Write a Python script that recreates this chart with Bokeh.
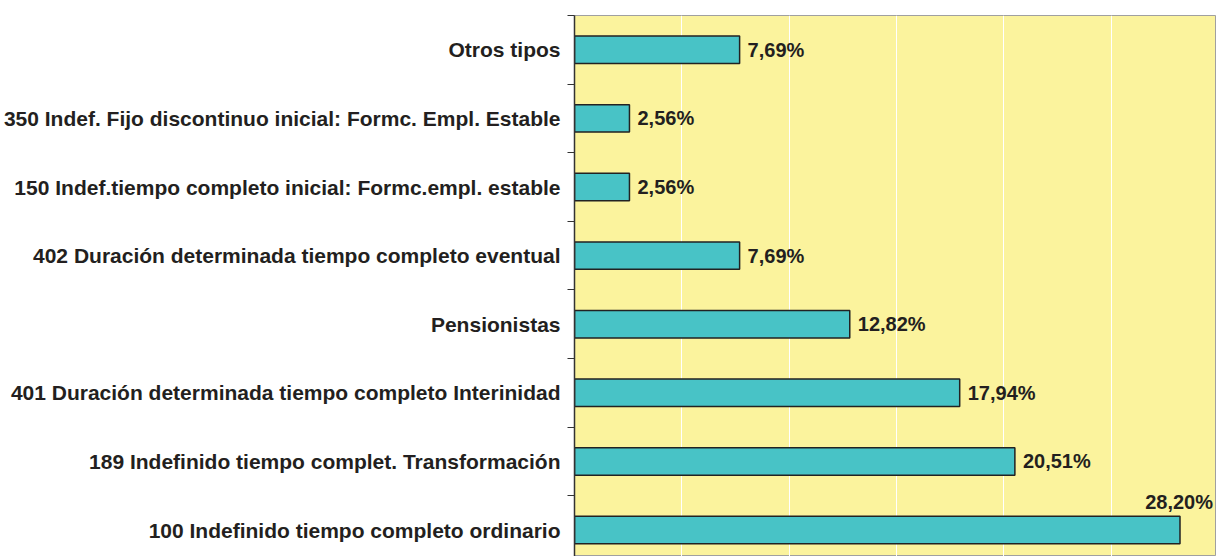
from bokeh.plotting import figure
from bokeh.models import Range1d, FixedTicker, ColumnDataSource
from bokeh.core.properties import value
from bokeh.embed import file_html
from bokeh.resources import INLINE

categories = [
    "100 Indefinido tiempo completo ordinario",
    "189 Indefinido tiempo complet. Transformación",
    "401 Duración determinada tiempo completo Interinidad",
    "Pensionistas",
    "402 Duración determinada tiempo completo eventual",
    "150 Indef.tiempo completo inicial: Formc.empl. estable",
    "350 Indef. Fijo discontinuo inicial: Formc. Empl. Estable",
    "Otros tipos",
]
values = [28.20, 20.51, 17.94, 12.82, 7.69, 2.56, 2.56, 7.69]
labels = ["28,20%", "20,51%", "17,94%", "12,82%", "7,69%", "2,56%", "2,56%", "7,69%"]

idx = list(range(len(categories)))

FONT = "Liberation Sans"
TXT = "#231F20"

p = figure(width=1216, height=556, output_backend="svg", toolbar_location=None,
           x_range=Range1d(0, 29.9), y_range=Range1d(-0.386, 7.5),
           min_border_left=574, min_border_right=0, min_border_top=15, min_border_bottom=0)
p.background_fill_color = "#FBF39D"
p.border_fill_color = "white"
p.outline_line_color = "#A0A0A0"
p.outline_line_width = 1

p.xaxis.visible = False
p.xgrid.ticker = FixedTicker(ticks=[5, 10, 15, 20, 25, 30])
p.xgrid.grid_line_color = "white"
p.xgrid.grid_line_width = 1
p.ygrid.grid_line_color = None

ya = p.yaxis[0]
ya.ticker = FixedTicker(ticks=idx, minor_ticks=[i + 0.5 for i in idx])
ya.major_label_overrides = {i: c for i, c in zip(idx, categories)}
ya.major_tick_out = 0
ya.major_tick_in = 0
ya.minor_tick_out = 7
ya.minor_tick_in = 0
ya.minor_tick_line_color = "#333333"
ya.axis_line_color = "#333333"
ya.axis_line_width = 1.5
ya.major_label_standoff = 7
ya.axis_label_standoff = 0
ya.major_label_text_font = FONT
ya.major_label_text_font_style = "bold"
ya.major_label_text_font_size = "21px"
ya.major_label_text_color = TXT

src = ColumnDataSource(dict(y=idx, v=values, lab=labels,
                            xo=[33] + [8] * 7, yo=[-28] + [0] * 7,
                            al=["right"] + ["left"] * 7))
p.hbar(y="y", right="v", left=0, height=0.4, source=src,
       fill_color="#48C3C6", line_color="#222222", line_width=1.5)
p.text(x="v", y="y", text="lab", source=src, x_offset="xo", y_offset="yo",
       text_align="al", text_baseline="middle",
       text_font=value(FONT), text_font_style="bold", text_font_size="20px",
       text_color=TXT)

open("out.html", "w").write(file_html(p, INLINE))
